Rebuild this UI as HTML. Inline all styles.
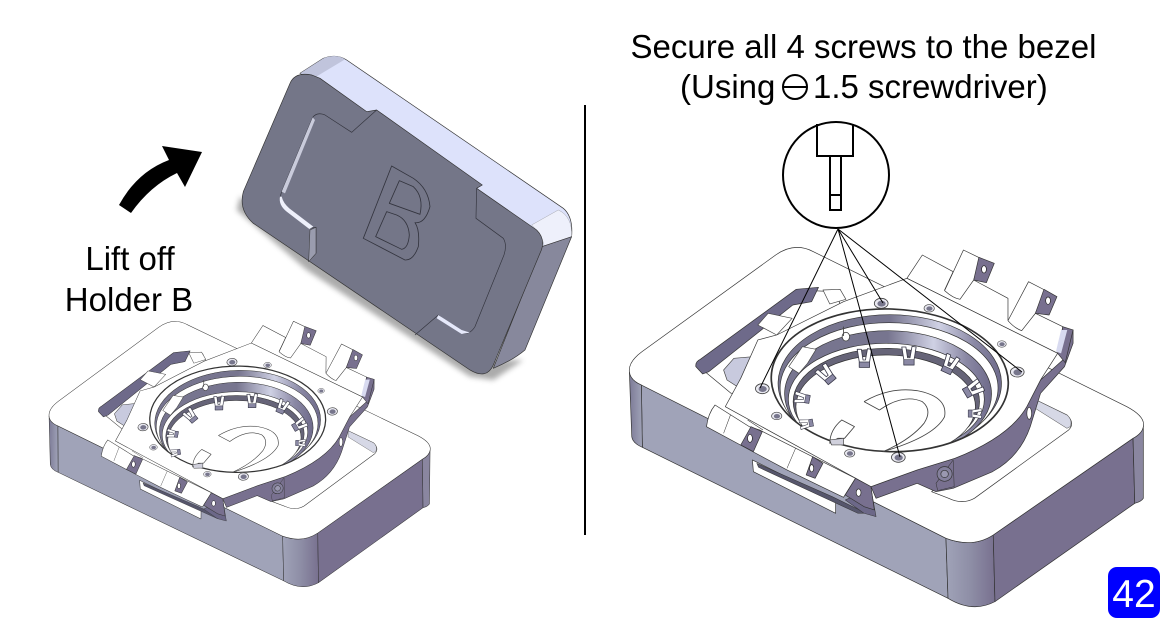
<!DOCTYPE html>
<html><head><meta charset="utf-8"><style>
html,body{margin:0;padding:0;background:#fff}
svg{display:block}
text{font-family:"Liberation Sans",sans-serif;fill:#000}
</style></head><body>
<svg width="1167" height="625" viewBox="0 0 1167 625" xmlns="http://www.w3.org/2000/svg">
<defs>
<linearGradient id="cg" x1="0" x2="1" y1="0" y2="0"><stop offset="0" stop-color="#a0a3b8"/><stop offset=".5" stop-color="#8e8ea6"/><stop offset="1" stop-color="#78708f"/></linearGradient>
<linearGradient id="lc" x1="0" x2="1" y1="0" y2="0"><stop offset="0" stop-color="#7c7a96"/><stop offset="1" stop-color="#a0a3b8"/></linearGradient>
<linearGradient id="band" x1="0" x2="1" y1="0" y2="0"><stop offset="0" stop-color="#77758f"/><stop offset=".5" stop-color="#77758f"/><stop offset=".72" stop-color="#cfd1e4"/><stop offset=".88" stop-color="#8a88a4"/><stop offset="1" stop-color="#6e6a8a"/></linearGradient>
<filter id="b8" x="-30%" y="-30%" width="160%" height="160%"><feGaussianBlur stdDeviation="8"/></filter>
<clipPath id="rc"><ellipse cx="800" cy="451" rx="344" ry="213" transform="rotate(2 800 451)"/></clipPath>
<g id="clip1"><path d="M-20 -24 L-8 -24 L-3 8 L4 8 L10 -26 L22 -24 L16 14 L16 30 L-14 30 L-14 14 Z" fill="#fff" stroke="#3c3c4c" stroke-width="2.5"/><path d="M-14 14 L16 14 L16 30 L-14 30Z" fill="#8a88a4" stroke="#3c3c4c" stroke-width="2"/></g>
<g id="hole"><ellipse rx="20" ry="15" fill="#e8e8f0" stroke="#444" stroke-width="2.5"/><ellipse rx="12" ry="9" cx="1" cy="1" fill="#77768c"/></g>

<g id="body" stroke-linejoin="round">
  <path d="M93 465 L982 925 L988 1105 L96 652 Z" fill="#a0a3b8" stroke="#333" stroke-width="2"/>
  <path d="M58 425 Q60 450 93 465 L96 652 Q68 640 65 620 Z" fill="url(#lc)" stroke="#333" stroke-width="2"/>
  <path d="M982 925 Q1060 955 1120 915 L1125 1115 Q1060 1150 988 1105 Z" fill="url(#cg)" stroke="#333" stroke-width="2"/>
  <path d="M1120 915 L1528 625 L1533 820 L1125 1115 Z" fill="#78708f" stroke="#333" stroke-width="2"/>
  <path d="M1528 625 Q1556 610 1558 585 L1558 805 Q1552 815 1533 820 Z" fill="#8a86a0" stroke="#333" stroke-width="2"/>
  <path d="M58 425 Q55 395 95 365 L485 75 Q540 35 595 65 L1510 530 Q1565 560 1558 590 Q1555 610 1528 625 L1120 915 Q1060 955 982 925 L93 465 Q60 450 58 425 Z" fill="#fff" stroke="#333" stroke-width="2"/>
  <path d="M255 405 L545 180 L660 185 L700 300 L430 480 L355 490 Z" fill="#fff" stroke="#333" stroke-width="2"/>
  <path d="M252 410 Q250 395 265 388 L545 178 L610 172 L590 215 L535 225 L290 425 L272 432 Z" fill="#6e6a8a" stroke="#333" stroke-width="2"/>
  <path d="M1235 505 L1335 555 Q1360 580 1340 600 L1065 805 Q1030 825 990 805 L940 785 L1180 620 Z" fill="#fff" stroke="#333" stroke-width="2"/>
  <path d="M1235 505 L1335 555 Q1352 570 1345 590 L1335 595 L1235 530 Z" fill="#d6d8e6" stroke="#555" stroke-width="1.5"/>
  <path d="M417 690 L660 815 L660 850 L420 725 Z" fill="#fff" stroke="#333" stroke-width="2"/>
  <path d="M430 700 L650 800 L750 850 L725 850 L435 712 Z" fill="#56566c" stroke="#333" stroke-width="1.5"/>
</g>

<g id="plate" stroke-linejoin="round">
  <path d="M605 180 L655 178 L672 208 L625 222 Z" fill="#fff" stroke="#444" stroke-width="2"/>
  <path d="M315 420 L345 385 L400 380 L395 405 L355 470 L325 450 Z" fill="#c8cade" stroke="#444" stroke-width="2"/>
  <path d="M415 285 L445 250 L515 265 L470 315 Z" fill="#fff" stroke="#444" stroke-width="2"/>
  <path d="M745 775 L760 860 L725 850 L670 810 Z" fill="#6c6888" stroke="#333" stroke-width="1.5"/>
  <path d="M745 770 L880 720 L990 685 Q1150 620 1200 530 L1240 450 L1305 390 L1335 300 L1335 340 L1310 410 L1240 490 L1210 590 Q1180 680 1100 725 L985 775 L935 785 L880 760 L760 805 Z" fill="#78708f" stroke="#333" stroke-width="2"/>
  <path d="M935 760 L985 690 L988 770 L940 782 Z" fill="#78708f" stroke="#333" stroke-width="1.5"/>
  <circle cx="960" cy="732" r="22" fill="#84809c" stroke="#333" stroke-width="2"/><circle cx="960" cy="732" r="11" fill="#9a98b0" stroke="#333" stroke-width="2"/>
  <ellipse cx="1207" cy="550" rx="7" ry="18" fill="#fff" stroke="#333" stroke-width="2"/>
  <path d="M850 145 L895 75 L985 125 L960 180 L1000 205 L1045 150 L1145 205 L1145 270 L1185 300 L1225 250 L1305 290 L1290 370 Z" fill="#fff" stroke="#333" stroke-width="2"/>
  <path d="M1015 60 L1065 85 L1045 150 L1005 208 Q985 205 960 182 Z" fill="#fff" stroke="#333" stroke-width="2"/>
  <path d="M1060 82 L1105 100 L1082 158 L1045 150 Z" fill="#78708f" stroke="#333" stroke-width="2"/>
  <ellipse cx="1075" cy="118" rx="7" ry="11" fill="#fff" stroke="#222" stroke-width="2"/>
  <path d="M1205 155 L1252 180 L1225 250 L1185 302 Q1165 295 1145 272 Z" fill="#fff" stroke="#333" stroke-width="2"/>
  <path d="M1250 178 L1288 200 L1265 255 L1225 250 Z" fill="#78708f" stroke="#333" stroke-width="2"/>
  <ellipse cx="1262" cy="212" rx="7" ry="11" fill="#fff" stroke="#222" stroke-width="2"/>
  <path d="M1305 290 L1335 300 L1312 398 L1290 370 Z" fill="#78708f" stroke="#333" stroke-width="2"/>
  <path d="M1300 300 L1318 300 L1300 370 L1285 365 Z" fill="#d8daf0"/>
  <path d="M320 530 L365 445 L415 330 L470 315 L665 215 L850 145 L1290 370 L1240 450 L1200 530 Q1150 620 990 685 L880 720 L745 770 Z" fill="#fff" stroke="#333" stroke-width="2"/>
  <!-- ring -->
  <g transform="rotate(2 800 451)"><ellipse cx="800" cy="451" rx="347" ry="215" fill="#fff" stroke="#333" stroke-width="3"/></g>
  <g clip-path="url(#rc)">
    <ellipse cx="800" cy="460" rx="326" ry="206" fill="url(#band)" stroke="#333" stroke-width="2"/>
    <ellipse cx="798" cy="474" rx="318" ry="196" fill="#fff" stroke="#333" stroke-width="2"/>
    <ellipse cx="795" cy="492" rx="302" ry="190" fill="url(#band)" stroke="#333" stroke-width="2"/>
    <ellipse cx="790" cy="508" rx="286" ry="168" fill="#fff" stroke="#333" stroke-width="2"/>
    <ellipse cx="790" cy="515" rx="272" ry="160" fill="#666478" stroke="#333" stroke-width="2"/>
    <ellipse cx="788" cy="530" rx="262" ry="155" fill="#fff" stroke="#333" stroke-width="2"/>
  </g>
  <g transform="rotate(2 800 451)"><ellipse cx="800" cy="451" rx="345" ry="213" fill="none" stroke="#333" stroke-width="3"/></g>
  <use href="#clip1" x="725" y="382"/><use href="#clip1" x="855" y="375"/>
  <use href="#clip1" transform="translate(975 400) rotate(25)"/><use href="#clip1" transform="translate(1045 475) rotate(60)"/>
  <use href="#clip1" transform="translate(1050 550) rotate(90) scale(.7)"/><use href="#clip1" transform="translate(612 432) rotate(-40)"/>
  <use href="#clip1" transform="translate(542 505) rotate(-80) scale(.8)"/><use href="#clip1" transform="translate(555 582) rotate(-100) scale(.7)"/>
  <ellipse cx="672" cy="320" rx="11" ry="13" fill="#fff" stroke="#444" stroke-width="2.5"/>
  <path d="M665 290 L665 318" stroke="#444" stroke-width="2.5"/>
  <path d="M545 350 L585 358 L560 400 L535 430 L505 410 Z" fill="#fff" stroke="#444" stroke-width="2"/>
  <!-- U shape -->
  <path d="M725 515 Q800 470 880 482 Q970 500 960 560 Q930 620 780 665" fill="none" stroke="#444" stroke-width="2.5"/>
  <path d="M725 515 L770 540 Q840 490 895 515 Q925 540 900 580 Q860 630 780 665" fill="none" stroke="#444" stroke-width="2.5"/>
  <path d="M660 570 L697 590 L668 625 L648 625 L625 640 Q625 600 660 570 Z" fill="#fff" stroke="#444" stroke-width="2.5"/>
  <path d="M625 630 L665 625 L665 645 L630 645 Z" fill="#d0d0dc" stroke="#444" stroke-width="2"/>
  <!-- holes -->
  <use href="#hole" x="428" y="476"/><use href="#hole" x="775" y="220"/><use href="#hole" x="1172" y="426"/><use href="#hole" x="825" y="682"/>
  <use href="#hole" transform="translate(470 558) scale(.75)"/><use href="#hole" transform="translate(915 235) scale(.75)"/><use href="#hole" transform="translate(1127 342) scale(.65)"/><use href="#hole" transform="translate(683 670) scale(.75)"/>
  <!-- front tabs -->
  <path d="M290 525 L390 590 L420 600 L700 745 L665 802 L590 765 L500 720 L400 665 L265 590 Q270 550 290 525 Z" fill="#fff" stroke="#333" stroke-width="2"/>
  <path d="M335 555 L315 610 M525 655 L500 715 M385 570 L430 600" stroke="#333" stroke-width="1.5" fill="none"/>
  <path d="M395 590 L428 605 L402 665 L365 645 Z" fill="#78708f" stroke="#333" stroke-width="2"/>
  <ellipse cx="392" cy="625" rx="7" ry="12" fill="#fff" stroke="#222" stroke-width="2"/>
  <path d="M575 680 L605 700 L582 745 L556 735 Z" fill="#78708f" stroke="#333" stroke-width="2"/>
  <ellipse cx="572" cy="715" rx="6" ry="11" fill="#fff" stroke="#222" stroke-width="2"/>
  <path d="M700 745 L745 770 L755 840 L725 830 L670 795 Z" fill="#78708f" stroke="#333" stroke-width="2"/>
  <ellipse cx="709" cy="788" rx="7" ry="11" fill="#fff" stroke="#222" stroke-width="2"/>
</g>
</defs>

<!-- left device -->
<g transform="matrix(.763 -.0133 -.0084 .745 -428 147.6)"><g transform="translate(610 230) scale(.3333)"><use href="#body"/><use href="#plate"/></g></g>

<!-- right device -->
<g transform="translate(628 0) scale(1.028 1) translate(-628 0)">
  <g transform="translate(610 230) scale(.3333)"><use href="#body"/></g>
  <g transform="translate(616 230) scale(.3333)"><use href="#plate"/></g>
</g>

<!-- holder B -->
<g transform="translate(230 40) scale(.3333)" stroke-linejoin="round">
  <path d="M30 470 L20 510 L230 690 L720 1010 L790 1020 L880 960 L770 960 L300 640 Z" fill="#888" filter="url(#b8)" opacity=".7"/>
  <path d="M210 100 L280 55 Q320 40 350 60 L1000 505 Q1030 530 1025 590 L935 625 Z" fill="#dde2fb" stroke="#333" stroke-width="2"/>
  <path d="M210 100 L280 55 Q320 40 345 58 L255 112 Z" fill="#c0c4dc"/>
  <path d="M905 555 L985 510 Q1028 530 1025 590 L945 630 Q940 585 905 555 Z" fill="#eef0fb" stroke="#888" stroke-width="1"/>
  <path d="M935 620 L1025 590 L885 930 Q850 960 790 985 Z" fill="#87889c" stroke="#333" stroke-width="2"/>
  <path d="M180 130 Q195 95 245 105 L270 115 L410 215 L440 210 L757 435 L740 445 L920 570 Q950 600 930 640 L790 975 Q770 1020 720 990 L70 550 Q25 510 40 455 Z" fill="#747688" stroke="#333" stroke-width="2"/>
  <path d="M440 210 L365 277 L285 225 Q262 215 248 232 L155 455 Q145 480 165 505 L240 565 L258 562 L258 640 L235 665" fill="none" stroke="#33343e" stroke-width="2"/>
  <path d="M248 232 L155 455 L165 460 L255 240 Z" fill="#c9cbdb"/>
  <path d="M150 470 Q145 495 170 515 L238 567 L250 560 L178 505 Q160 490 155 470 Z" fill="#eef0fb"/>
  <path d="M240 570 L258 562 L258 640 L236 665 Z" fill="#9a9cae" stroke="#333" stroke-width="1.5"/>
  <path d="M740 445 L738 535 L820 595 Q832 615 822 645 L735 860 Q720 885 695 880 L625 825 L555 885" fill="none" stroke="#33343e" stroke-width="2"/>
  <path d="M625 825 L695 870 L720 878 L695 882 L620 835 Z" fill="#e6e9fb"/>
  <path d="M485 378 L400 595 L525 660 Q550 662 565 620 Q570 570 555 548 Q585 552 600 500 Q595 445 550 415 Z" fill="none" stroke="#33343e" stroke-width="2.5"/>
  <path d="M508 422 L478 490 L570 523 Q582 470 550 440 Z" fill="none" stroke="#33343e" stroke-width="2.5"/>
  <path d="M470 515 L437 590 L515 628 Q535 625 538 585 Q535 540 500 525 Z" fill="none" stroke="#33343e" stroke-width="2.5"/>
</g>

<!-- arrow -->
<path d="M119 205 L131 213 Q150 186 177 173 L185 187 L202 152 L162 146 L169 160 Q137 172 119 205 Z" fill="#000"/>

<!-- divider -->
<line x1="585" y1="105" x2="585" y2="535" stroke="#000" stroke-width="2"/>

<!-- magnifier -->
<circle cx="836" cy="175" r="53" fill="#fff" stroke="#000" stroke-width="2"/>
<path d="M817 124 V156 H853 V124 M830 156 V210 H841 V156 M830 195 H841" fill="none" stroke="#000" stroke-width="2"/>
<path d="M838 229 L760 388 M838 229 L883 303 M838 229 L1022 372 M838 229 L900 457" stroke="#000" stroke-width="1" fill="none"/>

<!-- text -->
<text x="130" y="270" font-size="33" text-anchor="middle">Lift off</text>
<text x="129" y="311" font-size="33" text-anchor="middle">Holder B</text>
<text x="863.5" y="58" font-size="33" text-anchor="middle">Secure all 4 screws to the bezel</text>
<text x="680" y="98" font-size="33">(Using</text>
<circle cx="795" cy="87" r="12" fill="none" stroke="#000" stroke-width="2"/><line x1="783" y1="87" x2="807" y2="87" stroke="#000" stroke-width="2"/>
<text x="813" y="98" font-size="33">1.5 screwdriver)</text>

<!-- badge -->
<rect x="1108" y="567" width="52" height="51" rx="9" fill="#0000ff"/>
<text x="1134" y="607" font-size="39" text-anchor="middle" style="fill:#fff">42</text>
</svg>
</body></html>
